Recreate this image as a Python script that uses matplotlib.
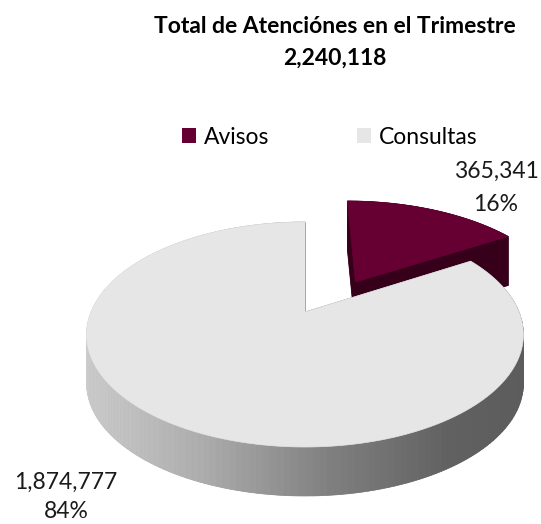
import numpy as np
import matplotlib
matplotlib.use('Agg')
import matplotlib.pyplot as plt
from matplotlib.patches import Polygon, Patch

plt.rcParams['font.family'] = ['Lato', 'DejaVu Sans']

# data
categories = ['Avisos', 'Consultas']
values = [365341, 1874777]
title = 'Total de Atenciónes en el Trimestre'

# look
top_colors = ['#660033', '#e6e6e6']
explode = [0.385, 0.0]
explode_turn = np.radians(11)   # excel's 3d view pushes the slice a bit more sideways

W, H = 541, 524
cx, cy = 305, 312      # centre of the top disk (pixels)
rx, ry = 214, 108      # radii of the top disk
k = 0.2                # perspective squeeze of the far side
depth = 49             # thickness of the pie


def project(u, v, h=0.0):
    p = 1.0 / (1.0 + k * v)
    return cx + rx * u * p, cy - ry * v * p + h


def gray_side(x):
    g = np.interp(x, [83, 200, 330, 450, 525], [0.80, 0.68, 0.50, 0.38, 0.36])
    return (g, g, g)


fig = plt.figure(figsize=(W / 100, H / 100), dpi=100)
ax = fig.add_axes([0, 0, 1, 1])
ax.set_xlim(0, W)
ax.set_ylim(H, 0)
ax.axis('off')

fracs = np.array(values) / sum(values)
bounds = np.concatenate([[0], np.cumsum(fracs)]) * 2 * np.pi

for i in range(len(values)):
    a, b = bounds[i], bounds[i + 1]
    mid = (a + b) / 2 + explode_turn
    u0, v0 = explode[i] * np.sin(mid), explode[i] * np.cos(mid)
    th = np.linspace(a, b, 200)
    us = np.concatenate([[u0], u0 + np.sin(th)])
    vs = np.concatenate([[v0], v0 + np.cos(th)])
    xt, yt = project(us, vs)
    top = np.column_stack([xt, yt])

    if i == 0:
        dark = '#36001b'
        side_col = lambda x: dark
    else:
        side_col = gray_side

    # bottom face
    ax.add_patch(Polygon(top + [0, depth], closed=True,
                         fc=side_col(cx), ec='none'))

    faces = []
    # rim pieces
    for j in range(len(th) - 1):
        uu = u0 + np.sin(th[j:j + 2])
        vv = v0 + np.cos(th[j:j + 2])
        x1, y1 = project(uu, vv)
        quad = [(x1[0], y1[0]), (x1[1], y1[1]),
                (x1[1], y1[1] + depth), (x1[0], y1[0] + depth)]
        faces.append((vv.mean(), quad, side_col(x1.mean())))
    # cut faces
    for t in (a, b):
        xs, ys = project(np.array([u0, u0 + np.sin(t)]), np.array([v0, v0 + np.cos(t)]))
        quad = [(xs[0], ys[0]), (xs[1], ys[1]),
                (xs[1], ys[1] + depth), (xs[0], ys[0] + depth)]
        faces.append((v0 + 0.5 * np.cos(t), quad, side_col(xs.mean())))

    for _, quad, col in sorted(faces, key=lambda f: -f[0]):
        ax.add_patch(Polygon(quad, closed=True, fc=col, ec=col, lw=0.5))

    ax.add_patch(Polygon(top, closed=True, fc=top_colors[i], ec=top_colors[i], lw=0.5))

# data labels (value line and percent line, placed by baseline)
pcts = np.round(fracs * 100).astype(int)
label_pos = [(496, 178, 211), (66, 489, 518)]
for v, p, (lx, y1, y2) in zip(values, pcts, label_pos):
    ax.text(lx, y1, f'{v:,}', ha='center', va='baseline',
            fontsize=16.5, color='#1a1a1a')
    ax.text(lx, y2, f'{p}%', ha='center', va='baseline',
            fontsize=16.5, color='#1a1a1a')

# title
ax.text(335, 33, title, ha='center', va='baseline',
        fontsize=16.5, fontweight='bold', color='black')
ax.text(335, 65, f'{sum(values):,}', ha='center', va='baseline',
        fontsize=16.5, fontweight='bold', color='black')

handles = [Patch(facecolor=c, edgecolor='none') for c in top_colors]
ax.legend(handles, categories, loc='center', bbox_to_anchor=(0.609, 0.738),
          ncol=2, frameon=False, fontsize=16.5, handlelength=0.62,
          handleheight=0.62, handletextpad=0.32, columnspacing=3.84,
          borderpad=0.0)

fig.savefig('out.png', dpi=100)
